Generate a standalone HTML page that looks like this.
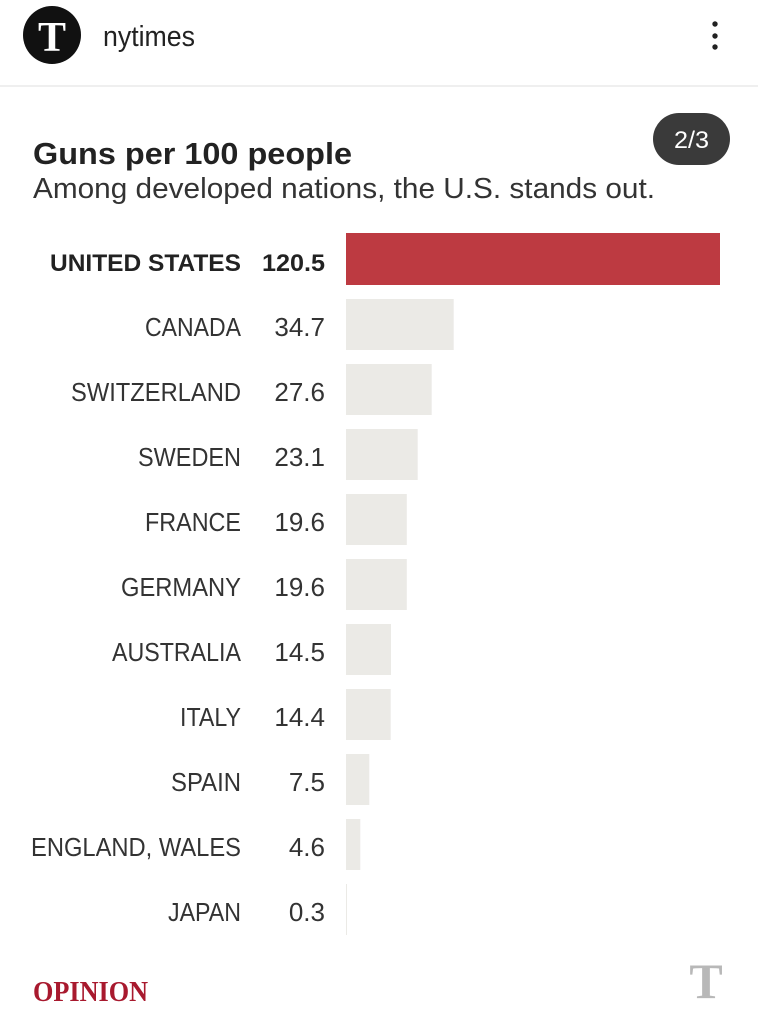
<!DOCTYPE html>
<html>
<head>
<meta charset="utf-8">
<style>
  html, body { margin: 0; padding: 0; background: #ffffff; }
  body { width: 758px; height: 1024px; overflow: hidden; }
  svg { display: block; }
</style>
</head>
<body>
<svg width="758" height="1024" viewBox="0 0 758 1024" xmlns="http://www.w3.org/2000/svg">
  <rect x="0" y="0" width="758" height="1024" fill="#ffffff"/>

  <!-- Header -->
  <circle cx="52" cy="35" r="29" fill="#111111"/>
  <text x="52" y="51" text-anchor="middle" font-family="Liberation Serif, serif" font-weight="bold" font-size="42" fill="#ffffff">T</text>
  <text x="103" y="46" font-family="Liberation Sans, sans-serif" font-size="29" fill="#222222" textLength="92" lengthAdjust="spacingAndGlyphs">nytimes</text>
  <circle cx="715" cy="24" r="2.7" fill="#222"/>
  <circle cx="715" cy="36" r="2.7" fill="#222"/>
  <circle cx="715" cy="47" r="2.7" fill="#222"/>
  <rect x="0" y="85" width="758" height="2" fill="#efefef"/>

  <!-- Badge -->
  <rect x="653" y="113" width="77" height="52" rx="26" ry="26" fill="#3a3a3a"/>
  <text x="691.5" y="148" text-anchor="middle" font-family="Liberation Sans, sans-serif" font-size="24" fill="#ffffff" textLength="35" lengthAdjust="spacingAndGlyphs">2/3</text>

  <!-- Title -->
  <text x="33" y="164" font-family="Liberation Sans, sans-serif" font-weight="bold" font-size="31" fill="#222222" textLength="319" lengthAdjust="spacingAndGlyphs">Guns per 100 people</text>
  <text x="33" y="198" font-family="Liberation Sans, sans-serif" font-size="29" fill="#333333" textLength="622" lengthAdjust="spacingAndGlyphs">Among developed nations, the U.S. stands out.</text>

  <!-- Bars -->
  <g>
    <rect x="346" y="233" width="374" height="52" fill="#bd3a41"/>
    <rect x="346" y="299" width="107.7" height="51" fill="#ebeae6"/>
    <rect x="346" y="364" width="85.7" height="51" fill="#ebeae6"/>
    <rect x="346" y="429" width="71.7" height="51" fill="#ebeae6"/>
    <rect x="346" y="494" width="60.8" height="51" fill="#ebeae6"/>
    <rect x="346" y="559" width="60.8" height="51" fill="#ebeae6"/>
    <rect x="346" y="624" width="45" height="51" fill="#ebeae6"/>
    <rect x="346" y="689" width="44.7" height="51" fill="#ebeae6"/>
    <rect x="346" y="754" width="23.3" height="51" fill="#ebeae6"/>
    <rect x="346" y="819" width="14.3" height="51" fill="#ebeae6"/>
    <rect x="346" y="884" width="1" height="51" fill="#ebeae6"/>
  </g>

  <!-- Labels -->
  <g font-family="Liberation Sans, sans-serif" font-size="26" fill="#333333" text-anchor="end">
    <text x="241" y="271" font-weight="bold" font-size="24" fill="#222222" textLength="191" lengthAdjust="spacingAndGlyphs">UNITED STATES</text>
    <text x="325" y="271" font-weight="bold" font-size="24" fill="#222222" textLength="63" lengthAdjust="spacingAndGlyphs">120.5</text>

    <text x="241" y="336" textLength="96" lengthAdjust="spacingAndGlyphs">CANADA</text>
    <text x="325" y="336">34.7</text>

    <text x="241" y="401" textLength="170" lengthAdjust="spacingAndGlyphs">SWITZERLAND</text>
    <text x="325" y="401">27.6</text>

    <text x="241" y="466" textLength="103" lengthAdjust="spacingAndGlyphs">SWEDEN</text>
    <text x="325" y="466">23.1</text>

    <text x="241" y="531" textLength="96" lengthAdjust="spacingAndGlyphs">FRANCE</text>
    <text x="325" y="531">19.6</text>

    <text x="241" y="596" textLength="120" lengthAdjust="spacingAndGlyphs">GERMANY</text>
    <text x="325" y="596">19.6</text>

    <text x="241" y="661" textLength="129" lengthAdjust="spacingAndGlyphs">AUSTRALIA</text>
    <text x="325" y="661">14.5</text>

    <text x="241" y="726" textLength="61" lengthAdjust="spacingAndGlyphs">ITALY</text>
    <text x="325" y="726">14.4</text>

    <text x="241" y="791" textLength="70" lengthAdjust="spacingAndGlyphs">SPAIN</text>
    <text x="325" y="791">7.5</text>

    <text x="241" y="856" textLength="210" lengthAdjust="spacingAndGlyphs">ENGLAND, WALES</text>
    <text x="325" y="856">4.6</text>

    <text x="241" y="921" textLength="73" lengthAdjust="spacingAndGlyphs">JAPAN</text>
    <text x="325" y="921">0.3</text>
  </g>

  <!-- Footer -->
  <text x="33" y="1001" font-family="Liberation Serif, serif" font-weight="bold" font-size="28" fill="#a8192e" textLength="115" lengthAdjust="spacingAndGlyphs">OPINION</text>
  <text x="706" y="998" text-anchor="middle" font-family="Liberation Serif, serif" font-weight="bold" font-size="50" fill="#b8b8b8">T</text>
</svg>
</body>
</html>
